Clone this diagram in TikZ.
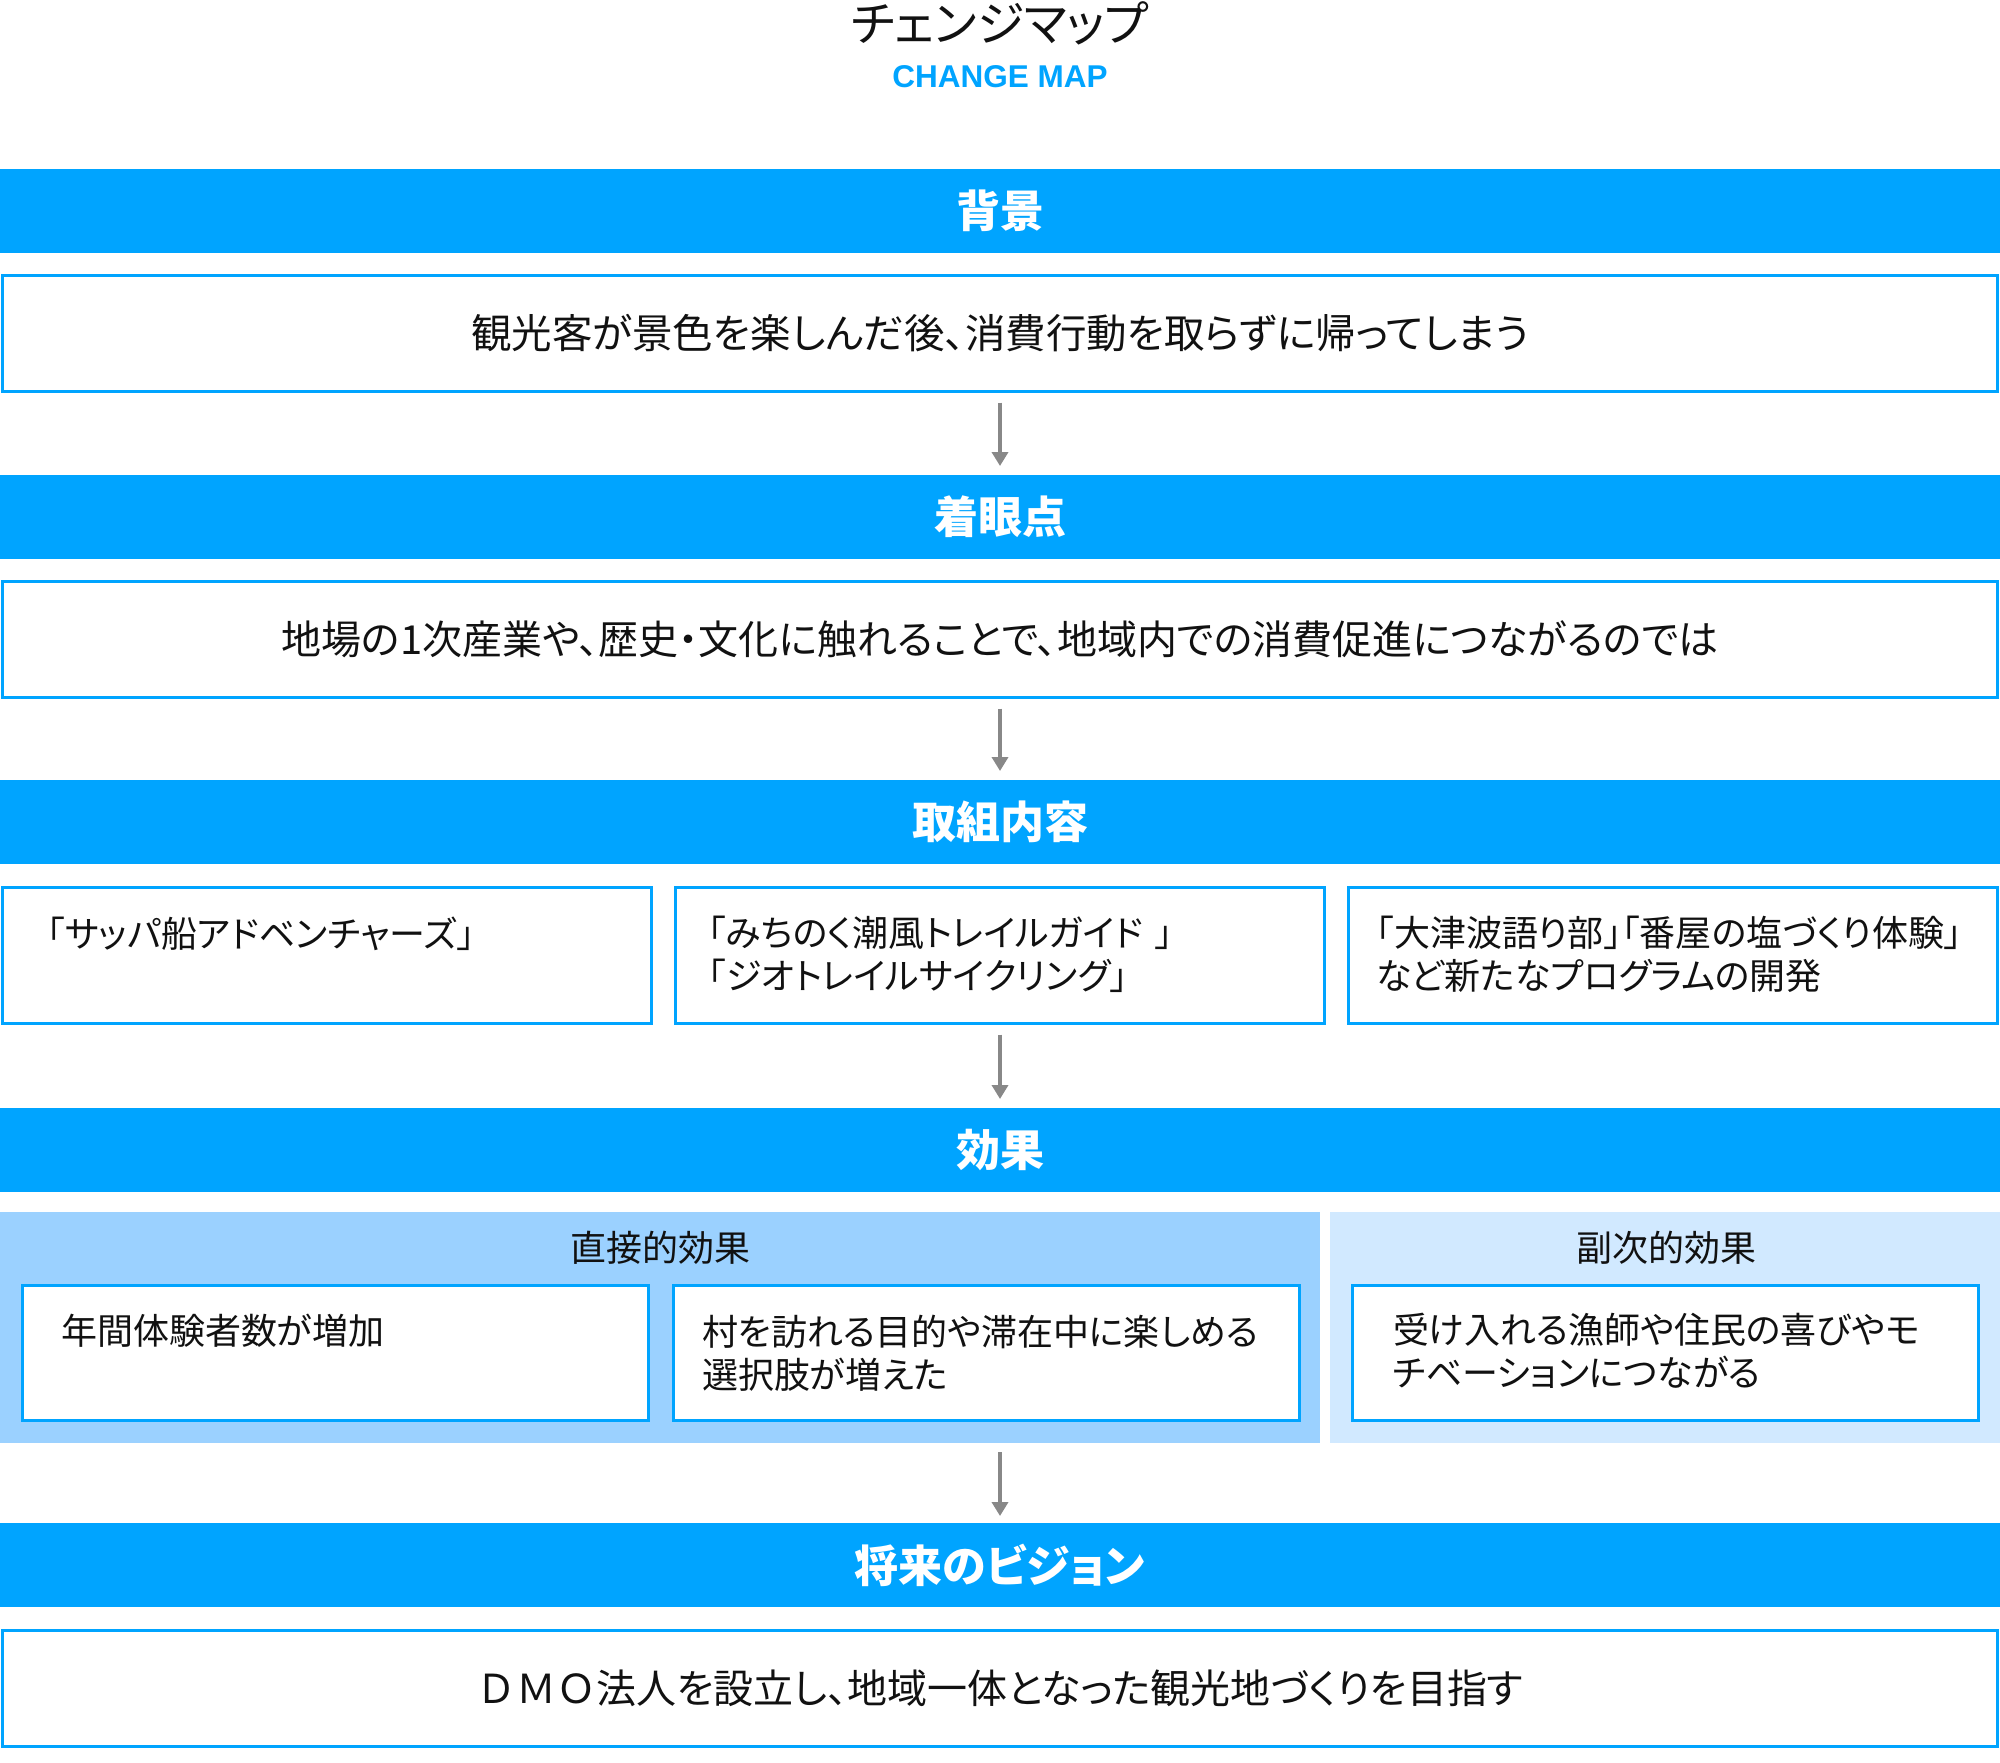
\documentclass[tikz,border=0pt]{standalone}
\usepackage{fontspec}
\setmainfont{Noto Sans CJK JP}[RawFeature=+palt]
\newfontfamily\fwfont{Noto Sans CJK JP}
\newfontfamily\latinbold{Liberation Sans}
\usetikzlibrary{arrows.meta}
\definecolor{bandblue}{RGB}{0,164,255}
\definecolor{primfill}{RGB}{155,209,255}
\definecolor{secfill}{RGB}{209,233,255}
\definecolor{arrowgray}{RGB}{136,136,136}
\definecolor{txt}{RGB}{17,17,17}
\tikzset{
  band/.style={fill=bandblue, draw=none, minimum width=2000pt, minimum height=84pt,
    inner sep=0pt, outer sep=0pt, text=white, anchor=north west,
    font=\bfseries\fontsize{44}{50}\selectfont},
  boxx/.style={draw=bandblue, line width=3pt, fill=white, inner sep=0pt, outer sep=0pt,
    anchor=north west, text=txt, font=\fontsize{40.5}{46}\selectfont},
  btext/.style={inner sep=0pt, outer sep=0pt, anchor=north west, align=left, text=txt,
    font=\fontsize{36}{43}\selectfont},
  sublabel/.style={inner sep=0pt, text=txt, font=\fontsize{36}{40}\selectfont},
  conn/.style={draw=arrowgray, line width=4pt, -{Triangle[width=16pt,length=14pt]},
    shorten <=11pt, shorten >=9pt},
}
\begin{document}
\begin{tikzpicture}[x=1pt,y=-1pt]
\useasboundingbox (0,0) rectangle (2000,1762);
\fill[white] (0,0) rectangle (2000,1762);

% title
\node[inner sep=0pt, text=txt, font=\fontsize{48}{54}\selectfont] (title) at (1000,23) {チェンジマップ};
\node[inner sep=0pt, text=bandblue, font=\latinbold\bfseries\fontsize{31.5}{36}\selectfont] (subtitle) at (1000,77) {CHANGE MAP};

% background
\node[band] (band1) at (0,169) {背景};
\node[boxx, minimum width=1995pt, minimum height=116pt] (b1) at (2.5,275.5) {観光客が景色を楽しんだ後、消費行動を取らずに帰ってしまう};

% focus
\node[band] (band2) at (0,475) {着眼点};
\node[boxx, minimum width=1995pt, minimum height=116pt, font=\fontsize{40}{46}\selectfont] (b2) at (2.5,581.5) {地場の1次産業や、歴史・文化に触れることで、地域内での消費促進につながるのでは};

% actions
\node[band] (band3) at (0,780) {取組内容};
\node[boxx, minimum width=649pt, minimum height=136pt] (r1) at (2.5,887.5) {};
\node[boxx, minimum width=649pt, minimum height=136pt] (r2) at (675.5,887.5) {};
\node[boxx, minimum width=649pt, minimum height=136pt] (r3) at (1348.5,887.5) {};
\node[btext] (r1t) at (47,916.5) {「サッパ船アドベンチャーズ」};
\node[btext] (r2t) at (708,916.5) {「みちのく潮風トレイルガイド\kern12pt」\\「ジオトレイルサイクリング」};
\node[btext] (r3t) at (1376,916.5) {「大津波語り部」「番屋の塩づくり体験」\\など新たなプログラムの開発};

% effects
\node[band] (band4) at (0,1108) {効果};
\fill[primfill] (0,1212) rectangle (1320,1443);
\fill[secfill] (1330,1212) rectangle (2000,1443);
\node[sublabel] (direct) at (660,1248) {直接的効果};
\node[sublabel] (second) at (1666,1248) {副次的効果};
\node[boxx, minimum width=626pt, minimum height=135pt] (e1) at (22.5,1285.5) {};
\node[boxx, minimum width=626pt, minimum height=135pt] (e2) at (673.5,1285.5) {};
\node[boxx, minimum width=626pt, minimum height=135pt] (e3) at (1352.5,1285.5) {};
\node[btext] (e1t) at (61,1314) {年間体験者数が増加};
\node[btext] (e2t) at (702,1315) {村を訪れる目的や滞在中に楽しめる\\選択肢が増えた};
\node[btext] (e3t) at (1393,1313) {受け入れる漁師や住民の喜びやモ\\チベーションにつながる};
\coordinate (effbot) at (1000,1443);

% vision
\node[band] (band5) at (0,1523) {将来のビジョン};
\node[boxx, minimum width=1995pt, minimum height=116pt, font=\fontsize{40}{46}\selectfont] (b5) at (2.5,1630.5) {{\fwfont ＤＭＯ}法人を設立し、地域一体となった観光地づくりを目指す};

% connectors
\draw[conn] (b1.south) -- (band2.north);
\draw[conn] (b2.south) -- (band3.north);
\draw[conn] (r2.south) -- (band4.north);
\draw[conn, shorten <=9pt, shorten >=7pt] (effbot) -- (band5.north);
\end{tikzpicture}
\end{document}
